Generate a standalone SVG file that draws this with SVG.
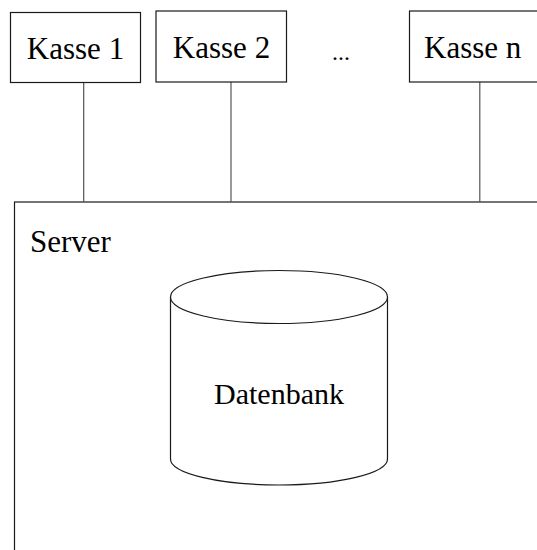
<svg xmlns="http://www.w3.org/2000/svg" width="537" height="550" viewBox="0 0 537 550">
  <style>
    .box { fill: #ffffff; stroke: #1a1a1a; stroke-width: 1.2; }
    .link { stroke: #555555; stroke-width: 1.2; fill: none; }
    .label { font-family: 'Liberation Serif', 'DejaVu Serif', 'Times New Roman', Times, serif; font-size: 31px; fill: #000000; }
  </style>
  <rect width="537" height="550" fill="#ffffff"/>

  <!-- server container (runs past the right and bottom edges) -->
  <g id="server">
    <rect class="box" x="14.5" y="202" width="540" height="370"/>
    <text class="label" x="30" y="252" font-size="30.5">Server</text>
  </g>

  <!-- connectors from each till down to the server -->
  <g id="connectors">
    <line class="link" x1="83.7" y1="82.5" x2="83.7" y2="202"/>
    <line class="link" x1="231" y1="82" x2="231" y2="202"/>
    <line class="link" x1="479.8" y1="82" x2="479.8" y2="202"/>
  </g>

  <g id="kasse1">
    <rect class="box" x="10.5" y="12.5" width="130" height="70"/>
    <text class="label" x="75.5" y="59" text-anchor="middle">Kasse 1</text>
  </g>

  <g id="kasse2">
    <rect class="box" x="156" y="11" width="130.5" height="71"/>
    <text class="label" x="221.5" y="58" text-anchor="middle">Kasse 2</text>
  </g>

  <g id="ellipsis">
    <text class="label" x="341" y="60" text-anchor="middle" style="font-size:24px">...</text>
  </g>

  <g id="kassen">
    <rect class="box" x="409.5" y="11" width="135" height="71"/>
    <text class="label" x="424" y="58">Kasse n</text>
  </g>

  <!-- database cylinder -->
  <g id="datenbank">
    <path class="box" d="M170.5,297 L170.5,459 A108.5,26 0 0 0 387.5,459 L387.5,297"/>
    <ellipse class="box" cx="279" cy="297" rx="108.5" ry="26.5"/>
    <text class="label" x="279" y="404" text-anchor="middle" style="font-size:30px">Datenbank</text>
  </g>
</svg>
